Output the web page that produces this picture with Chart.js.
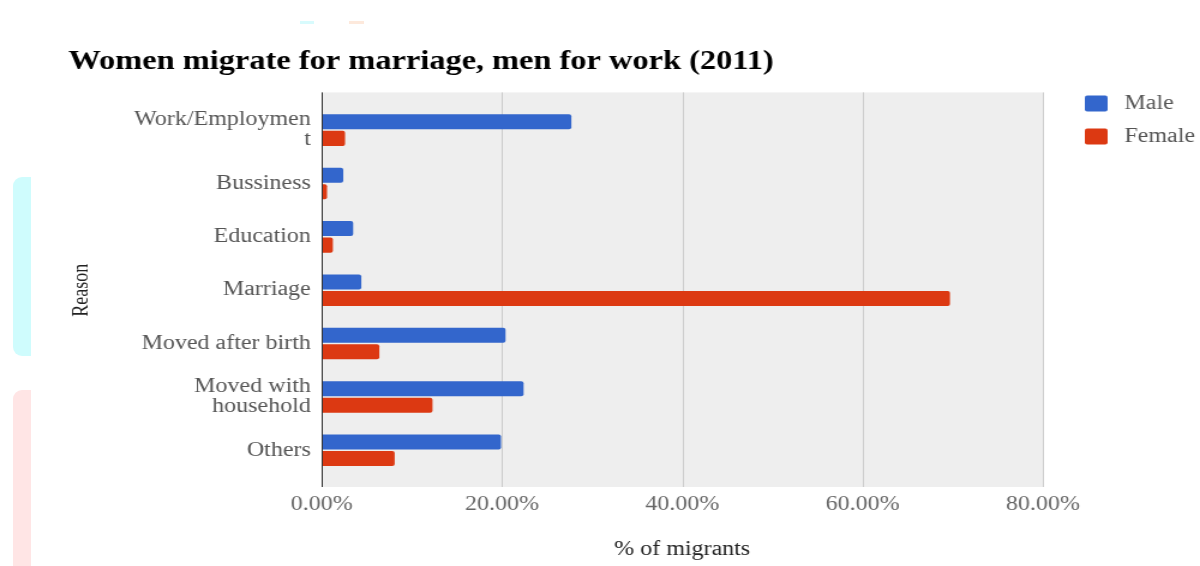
<!DOCTYPE html>
<html>
<head>
<meta charset="utf-8">
<title>Women migrate for marriage, men for work (2011)</title>
<script src="https://cdn.jsdelivr.net/npm/chart.js@4/dist/chart.umd.min.js"></script>
<style>
  body { margin: 0; background: #fff; }
  #wrap { position: relative; width: 1200px; height: 566px; overflow: hidden; }
  .tab { position: absolute; }
  /* the chart is laid out 1000 wide and widened to the full 1200 */
  #migrationChart { position: absolute; left: 0; top: 0; transform: scaleX(1.2); transform-origin: 0 0; }
</style>
</head>
<body>
<div id="wrap">
  <div class="tab" style="left:13px;top:177px;width:18px;height:179px;background:#cffcfd;border-radius:9px 0 0 9px"></div>
  <div class="tab" style="left:13px;top:390px;width:18px;height:176px;background:#ffe5e5;border-radius:9px 0 0 0"></div>
  <div class="tab" style="left:300px;top:21px;width:14px;height:3px;background:#d8fbfd"></div>
  <div class="tab" style="left:349px;top:21px;width:15px;height:3px;background:#fde9dc"></div>
  <canvas id="migrationChart" width="1000" height="566"></canvas>
</div>
<script>
const categories = [['Work/Employmen', 't'], 'Bussiness', 'Education', 'Marriage', 'Moved after birth', ['Moved with', 'household'], 'Others'];
const maleShare = [27.7, 2.4, 3.5, 4.4, 20.4, 22.4, 19.9];
const femaleShare = [2.6, 0.6, 1.25, 69.7, 6.4, 12.3, 8.1];
const xTickValues = [0, 20, 40, 60, 80];

const serif = "'Liberation Serif', 'Times New Roman', serif";
Chart.defaults.font.family = serif;

// grey plot panel a little taller than the bar bands, with grid and baseline
const plotFrame = {
  id: 'plotFrame',
  beforeDatasetsDraw(chart) {
    const { ctx, chartArea: a, scales: { x } } = chart;
    ctx.save();
    ctx.fillStyle = '#eeeeee';
    ctx.fillRect(a.left, a.top - 11, a.right - a.left, a.bottom - a.top + 21);
    ctx.strokeStyle = '#cccccc';
    ctx.lineWidth = 1;
    xTickValues.slice(1).forEach(v => {
      const px = Math.round(x.getPixelForValue(v)) + 0.5;
      ctx.beginPath();
      ctx.moveTo(px, a.top - 11);
      ctx.lineTo(px, a.bottom + 10);
      ctx.stroke();
    });
    ctx.restore();
  },
  afterDatasetsDraw(chart) {
    const { ctx, chartArea: a, scales: { x } } = chart;
    const px = Math.round(x.getPixelForValue(0)) + 0.5;
    ctx.save();
    ctx.strokeStyle = '#333333';
    ctx.lineWidth = 1;
    ctx.beginPath();
    ctx.moveTo(px, a.top - 11);
    ctx.lineTo(px, a.bottom + 10);
    ctx.stroke();
    ctx.restore();
  }
};

// legend down the right side, next to the top of the plot
const sideLegend = {
  id: 'sideLegend',
  afterDraw(chart) {
    const { ctx, chartArea: a } = chart;
    ctx.save();
    ctx.font = '20px ' + serif;
    ctx.textBaseline = 'middle';
    chart.data.datasets.forEach((ds, i) => {
      const y = a.top + i * 33;
      ctx.fillStyle = ds.backgroundColor;
      ctx.beginPath();
      ctx.roundRect(a.right + 35, y - 8, 19, 16, 2);
      ctx.fill();
      ctx.fillStyle = '#555555';
      ctx.fillText(ds.label, a.right + 68, y);
    });
    ctx.restore();
  }
};

const ctx = document.getElementById('migrationChart').getContext('2d');
const migrationChart = new Chart(ctx, {
  type: 'bar',
  data: {
    labels: categories,
    datasets: [{
      label: 'Male',
      data: maleShare,
      backgroundColor: '#3366cc',
      borderRadius: 2,
      borderSkipped: 'start'
    }, {
      label: 'Female',
      data: femaleShare,
      backgroundColor: '#dc3912',
      borderRadius: 2,
      borderSkipped: 'start'
    }]
  },
  options: {
    indexAxis: 'y',
    responsive: false,
    animation: false,
    devicePixelRatio: 1,
    categoryPercentage: 0.62,
    barPercentage: 0.91,
    layout: {
      padding: { left: 57, right: 131, top: 0, bottom: 0 }
    },
    scales: {
      x: {
        min: 0,
        max: 80,
        afterFit: (scale) => { scale.height = 89; },
        afterBuildTicks: (scale) => { scale.ticks = xTickValues.map(v => ({ value: v })); },
        grid: { display: false, drawTicks: false },
        border: { display: false },
        ticks: {
          padding: 16,
          color: '#666666',
          font: { size: 20 },
          callback: (v) => v.toFixed(2) + '%'
        },
        title: {
          display: true,
          text: '% of migrants',
          color: '#222222',
          font: { size: 20 },
          padding: { top: 0, bottom: 4 }
        }
      },
      y: {
        afterFit: (scale) => { scale.width = 211; },
        grid: { display: false, drawTicks: false },
        border: { display: false },
        ticks: {
          padding: 9,
          color: '#555555',
          font: { size: 20, lineHeight: 1.0 }
        },
        title: {
          display: true,
          text: 'Reason',
          color: '#222222',
          font: { size: 18 },
          padding: { top: 0, bottom: 0 }
        }
      }
    },
    plugins: {
      legend: { display: false },
      tooltip: { enabled: false },
      title: {
        display: true,
        text: 'Women migrate for marriage, men for work (2011)',
        align: 'start',
        color: '#000000',
        font: { size: 27, weight: 'bold' },
        padding: { top: 46, bottom: 25 }
      }
    }
  },
  plugins: [plotFrame, sideLegend]
});
</script>
</body>
</html>
